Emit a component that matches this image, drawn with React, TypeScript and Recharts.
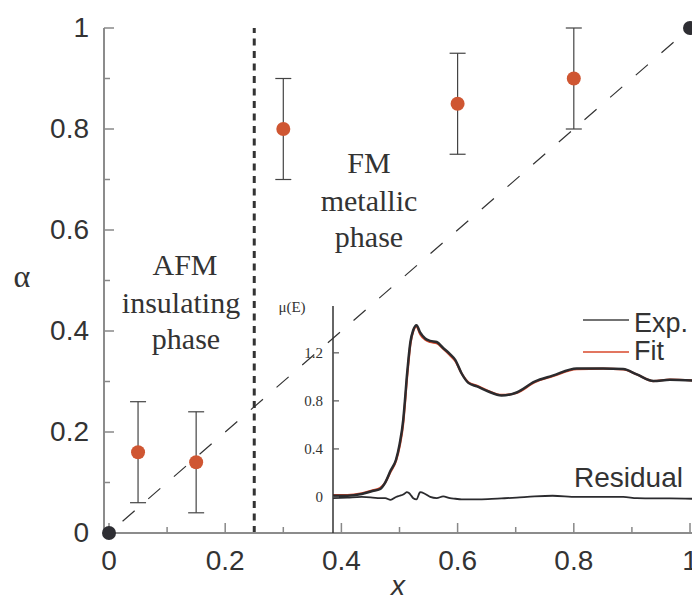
import React from 'react';
import { ComposedChart, Scatter, ErrorBar, XAxis, YAxis, ReferenceLine, Line } from 'recharts';

// ---- main chart data ----
const dopingX = [0.05, 0.15, 0.3, 0.6, 0.8];
const alphaValues = [0.16, 0.14, 0.8, 0.85, 0.9];
const alphaErrors = [0.1, 0.1, 0.1, 0.1, 0.1];
const endpointX = [0, 1];
const endpointAlpha = [0, 1];
const phaseBoundaryX = 0.25;
const mainTicks = [0, 0.1, 0.2, 0.3, 0.4, 0.5, 0.6, 0.7, 0.8, 0.9, 1];
const mainTickLabels = ['0', '', '0.2', '', '0.4', '', '0.6', '', '0.8', '', '1'];

// ---- inset data (XAS spectrum) ----
const energy = [0, 4, 8, 11, 13, 14.5, 16, 17.5, 18.5, 19.5, 20, 20.5, 21, 21.5, 22.3, 23.2, 24.2, 25.6, 27, 28.8, 30.6, 32.5, 34, 35.7, 37.6, 40, 43, 46.8, 51, 56, 61, 67.7, 75, 80.6, 84.4, 89, 93.6, 100];
const muExp = [0.01, 0.01, 0.025, 0.05, 0.065, 0.12, 0.22, 0.31, 0.44, 0.64, 0.81, 1.0, 1.16, 1.29, 1.39, 1.43, 1.37, 1.32, 1.3, 1.29, 1.24, 1.19, 1.14, 1.03, 0.95, 0.92, 0.88, 0.845, 0.87, 0.96, 1.01, 1.07, 1.07, 1.065, 1.02, 0.965, 0.975, 0.97];
const muFit = [0.015, 0.015, 0.03, 0.055, 0.072, 0.12, 0.21, 0.3, 0.42, 0.61, 0.78, 0.97, 1.13, 1.27, 1.38, 1.42, 1.355, 1.31, 1.29, 1.28, 1.235, 1.18, 1.13, 1.03, 0.955, 0.925, 0.885, 0.85, 0.866, 0.955, 1.005, 1.064, 1.068, 1.062, 1.02, 0.965, 0.978, 0.97];
const muResidual = [-0.01, -0.005, 0, -0.005, -0.01, -0.01, -0.025, 0, 0.01, 0.02, 0.03, 0.04, 0.035, 0.02, -0.01, -0.02, 0.04, 0.025, 0, -0.01, 0.005, -0.01, -0.015, -0.02, -0.02, -0.02, -0.018, -0.012, -0.005, 0.005, 0.01, 0, 0, 0, -0.01, -0.012, -0.012, -0.015];
const insetTicks = [0, 0.4, 0.8, 1.2];
const insetTickLabels = ['0', '0.4', '0.8', '1.2'];

const scatterData = dopingX.map((x, i) => ({ x, y: alphaValues[i], err: alphaErrors[i] }));
const endpointData = endpointX.map((x, i) => ({ x, y: endpointAlpha[i] }));
const insetData = energy.map((e, i) => ({ e, exp: muExp[i], fit: muFit[i], res: muResidual[i] }));

const X_DOMAIN: [number, number] = [-0.0086, 1.0172];

const SANS = '"Liberation Sans", Arial, sans-serif';
const SERIF = '"Liberation Serif", "Times New Roman", serif';
const TEXT = '#333';
const ORANGE = '#cf5632';
const DARK = '#2e2e33';

const labelFor = (v: number) => {
  const i = mainTicks.findIndex((t) => Math.abs(t - v) < 1e-9);
  return i >= 0 ? mainTickLabels[i] : '';
};

const MainXTick = (props: any) => {
  const { x, y, payload } = props;
  const lab = labelFor(payload.value);
  const len = lab ? 10 : 6;
  return (
    <g>
      <line x1={x} x2={x} y1={y} y2={y - len} stroke="#888" strokeWidth={1.5} />
      {lab && (
        <text x={x} y={y + 37} textAnchor="middle" fontFamily={SANS} fontSize={28} fill={TEXT}>
          {lab}
        </text>
      )}
    </g>
  );
};

const MainYTick = (props: any) => {
  const { x, y, payload } = props;
  const lab = labelFor(payload.value);
  const len = lab ? 10 : 6;
  return (
    <g>
      <line x1={x} x2={x + len} y1={y} y2={y} stroke="#888" strokeWidth={1.5} />
      {lab && (
        <text x={x - 15} y={y + 9} textAnchor="end" fontFamily={SANS} fontSize={28} fill={TEXT}>
          {lab}
        </text>
      )}
    </g>
  );
};

const InsetYTick = (props: any) => {
  const { x, y, payload } = props;
  const i = insetTicks.findIndex((t) => Math.abs(t - payload.value) < 1e-9);
  return (
    <g>
      <line x1={x} x2={x + 6} y1={y} y2={y} stroke="#555" strokeWidth={1.2} />
      <text x={x - 10} y={y + 5} textAnchor="end" fontFamily={SERIF} fontSize={15} fill={TEXT}>
        {i >= 0 ? insetTickLabels[i] : ''}
      </text>
    </g>
  );
};

const OrangeDot = (p: any) => <circle cx={p.cx} cy={p.cy} r={7} fill={ORANGE} />;
const DarkDot = (p: any) => <circle cx={p.cx} cy={p.cy} r={7} fill={DARK} />;

export default function App() {
  return (
    <div style={{ position: 'absolute', left: 0, top: 0, width: 692, height: 602, overflow: 'hidden', background: '#fff' }}>
      <div style={{ position: 'absolute', left: 0, top: 0 }}>
        <ComposedChart width={720} height={602} margin={{ top: 28, right: 20, bottom: 0, left: 0 }}>
          <XAxis
            dataKey="x"
            type="number"
            domain={X_DOMAIN}
            ticks={mainTicks}
            height={69}
            tickSize={0}
            tickMargin={0}
            tickLine={false}
            tick={MainXTick}
            axisLine={{ stroke: '#8c8c8c', strokeWidth: 2 }}
          />
          <XAxis
            xAxisId="top"
            orientation="top"
            dataKey="x"
            type="number"
            domain={X_DOMAIN}
            height={0}
            tick={false}
            tickLine={false}
            axisLine={{ stroke: '#444', strokeWidth: 1.5 }}
          />
          <YAxis
            dataKey="y"
            type="number"
            domain={[0, 1]}
            ticks={mainTicks}
            width={104}
            tickSize={0}
            tickMargin={0}
            tickLine={false}
            tick={MainYTick}
            axisLine={{ stroke: '#8c8c8c', strokeWidth: 2 }}
          />
          <ReferenceLine x={phaseBoundaryX} stroke="#333" strokeWidth={3} strokeDasharray="7 5.5" />
          <ReferenceLine
            segment={[{ x: endpointX[0], y: endpointAlpha[0] }, { x: endpointX[1], y: endpointAlpha[1] }]}
            stroke="#333"
            strokeWidth={1.2}
            strokeDasharray="16 18"
            strokeDashoffset={16}
          />
          <Scatter data={scatterData} dataKey="y" shape={OrangeDot} isAnimationActive={false}>
            <ErrorBar dataKey="err" direction="y" width={8} stroke="#444" strokeWidth={1.2} isAnimationActive={false} />
          </Scatter>
        </ComposedChart>
      </div>

      {/* same scales, taller plot area so the end markers are not cut at the frame */}
      <div style={{ position: 'absolute', left: 0, top: 0 }}>
        <ComposedChart width={720} height={602} margin={{ top: 12.85, right: 20, bottom: 53.85, left: 104 }}>
          <XAxis dataKey="x" type="number" domain={X_DOMAIN} hide height={0} />
          <YAxis dataKey="y" type="number" domain={[-0.03, 1.03]} hide width={0} />
          <Scatter data={endpointData} dataKey="y" shape={DarkDot} isAnimationActive={false} />
        </ComposedChart>
      </div>

      <div style={{ position: 'absolute', left: 263, top: 306 }}>
        <ComposedChart width={430} height={227} data={insetData} margin={{ top: 0, right: 0, bottom: 0, left: 0 }}>
          <XAxis dataKey="e" type="number" domain={[0, 100]} hide height={0} />
          <XAxis
            xAxisId="top"
            orientation="top"
            dataKey="e"
            type="number"
            domain={[0, 100]}
            height={0}
            tick={false}
            tickLine={false}
            axisLine={{ stroke: '#444', strokeWidth: 1.5 }}
          />
          <YAxis
            type="number"
            domain={[-0.3, 1.59]}
            ticks={insetTicks}
            width={70}
            tickSize={0}
            tickMargin={0}
            tickLine={false}
            tick={InsetYTick}
            axisLine={{ stroke: '#333', strokeWidth: 1.5 }}
          />
          <Line type="monotone" dataKey="fit" stroke="#d9482b" strokeWidth={2.2} dot={false} isAnimationActive={false} />
          <Line type="monotone" dataKey="exp" stroke="#2b2b2e" strokeWidth={2.5} dot={false} isAnimationActive={false} />
          <Line type="monotone" dataKey="res" stroke="#2b2b2e" strokeWidth={1.8} dot={false} isAnimationActive={false} />
        </ComposedChart>
      </div>

      <svg width={692} height={602} style={{ position: 'absolute', left: 0, top: 0, pointerEvents: 'none' }}>
        <text x={22} y={287} textAnchor="middle" fontFamily={SERIF} fontSize={32} fill={TEXT}>α</text>
        <text x={398} y={595} textAnchor="middle" fontFamily={SANS} fontStyle="italic" fontSize={28} fill={TEXT}>x</text>
        <g fontFamily={SERIF} fontSize={30} fill={TEXT} textAnchor="middle">
          <text x={185} y={275}>AFM</text>
          <text x={181} y={313}>insulating</text>
          <text x={186} y={349}>phase</text>
          <text x={369} y={173}>FM</text>
          <text x={369} y={211}>metallic</text>
          <text x={369} y={247}>phase</text>
        </g>
        <text x={292} y={312} textAnchor="middle" fontFamily={SERIF} fontSize={15} fill={TEXT}>μ(E)</text>
        <line x1={583} x2={629} y1={320} y2={320} stroke="#444" strokeWidth={1.3} />
        <text x={634} y={332} fontFamily={SANS} fontSize={27} fill={TEXT}>Exp.</text>
        <line x1={583} x2={629} y1={352} y2={352} stroke="#d9482b" strokeWidth={1.3} />
        <text x={634} y={360} fontFamily={SANS} fontSize={27} fill={TEXT}>Fit</text>
        <text x={574} y={487} fontFamily={SANS} fontSize={28} fill={TEXT}>Residual</text>
      </svg>
    </div>
  );
}
